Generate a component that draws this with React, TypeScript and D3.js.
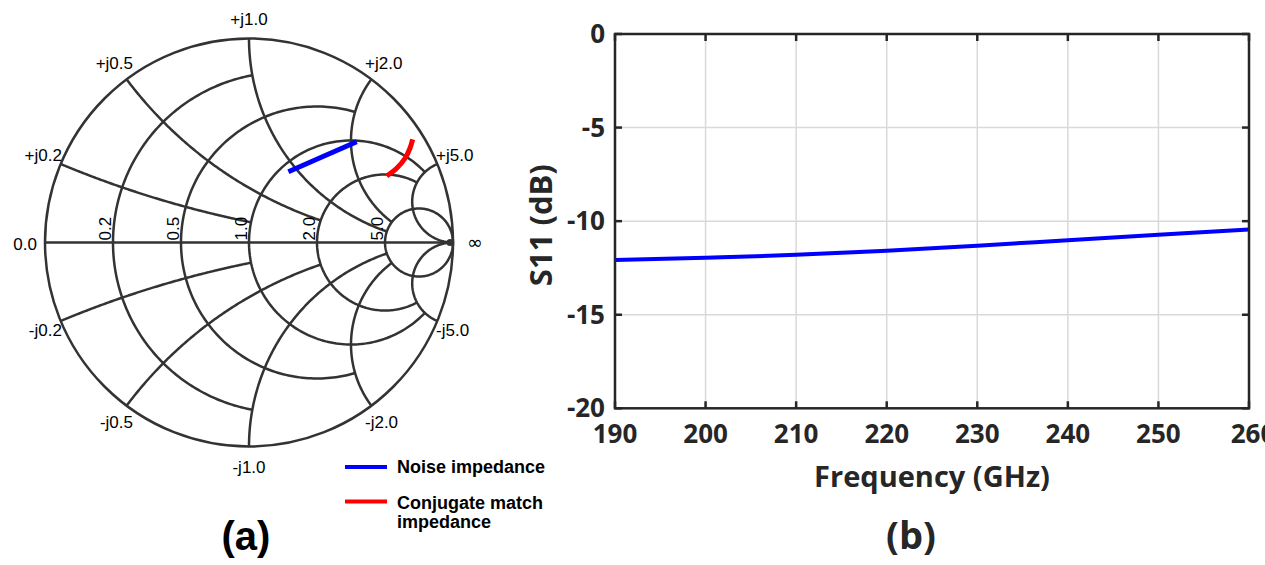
import React from 'react';
import * as d3 from 'd3';

// Smith chart grid (normalised values) and how far each grid line runs
const resistanceValues = [0.2, 0.5, 1, 2, 5];
const resistanceStopAtReactance = [1, 2, 5, 5, Infinity];
const resistanceLabels = ['0.2', '0.5', '1.0', '2.0', '5.0'];
const reactanceValues = [0.2, 0.5, 1, 2, 5];
const reactanceStopAtResistance = [1, 2, 5, 5, Infinity];
const reactanceLabels = ['0.2', '0.5', '1.0', '2.0', '5.0'];

// impedance traces, as reflection coefficient (re, im)
const noiseRe = [0.193, 0.36, 0.528];
const noiseIm = [0.347, 0.42, 0.494];
const conjRe = [0.675, 0.724, 0.765, 0.789, 0.802];
const conjIm = [0.326, 0.364, 0.413, 0.462, 0.506];

// S11 vs frequency
const freqGHz = [190, 200, 210, 220, 230, 240, 250, 260];
const s11dB = [-12.08, -11.96, -11.8, -11.58, -11.31, -11.02, -10.73, -10.44];
const freqTicks = [190, 200, 210, 220, 230, 240, 250, 260];
const s11Ticks = [0, -5, -10, -15, -20];

const GRID = '#333333';
const AXIS = '#262626';

const cx = 249, cy = 242.5, R = 204;
const gx = d3.scaleLinear().domain([-1, 1]).range([cx - R, cx + R]);
const gy = d3.scaleLinear().domain([-1, 1]).range([cy + R, cy - R]);

// z -> gamma
const toGamma = (r: number, x: number): [number, number] => {
  if (!isFinite(r) || !isFinite(x)) return [1, 0];
  const nr = r - 1, dr = r + 1;
  const den = dr * dr + x * x;
  return [(nr * dr + x * x) / den, (x * dr - nr * x) / den];
};

const smithLine = d3.line<[number, number]>().x(d => gx(d[0])).y(d => gy(d[1]));

const resistancePath = (r: number, xmax: number) => {
  const c = r / (1 + r), rad = 1 / (1 + r);
  const end = toGamma(r, xmax);
  const a0 = isFinite(xmax) ? Math.atan2(end[1], end[0] - c) : 0;
  const a1 = 2 * Math.PI - a0;
  const pts = d3.range(0, 181).map(i => {
    const a = a0 + (a1 - a0) * i / 180;
    return [c + rad * Math.cos(a), rad * Math.sin(a)] as [number, number];
  });
  return smithLine(pts) as string;
};

const reactancePath = (x: number, rmax: number) => {
  const sign = x > 0 ? 1 : -1;
  const ax = Math.abs(x);
  const ccy = 1 / ax, rad = 1 / ax;
  const start = toGamma(0, ax);
  const end = toGamma(rmax, ax);
  const norm = (a: number) => (a < 0 ? a + 2 * Math.PI : a);
  const a0 = norm(Math.atan2(start[1] - ccy, start[0] - 1));
  let a1 = norm(Math.atan2(end[1] - ccy, end[0] - 1));
  if (a1 < a0) a1 += 2 * Math.PI;
  const pts = d3.range(0, 121).map(i => {
    const a = a0 + (a1 - a0) * i / 120;
    return [1 + rad * Math.cos(a), sign * (ccy + rad * Math.sin(a))] as [number, number];
  });
  return smithLine(pts) as string;
};

const SmithChart = () => {
  const smithFont = "'Liberation Sans', Arial, sans-serif";
  const noisePts = noiseRe.map((v, i) => [v, noiseIm[i]] as [number, number]);
  const conjPts = conjRe.map((v, i) => [v, conjIm[i]] as [number, number]);
  const curved = d3.line<[number, number]>().x(d => gx(d[0])).y(d => gy(d[1])).curve(d3.curveCatmullRom);

  return (
    <g>
      <g fill="none" stroke={GRID} strokeWidth={2.5}>
        <circle cx={gx(0)} cy={gy(0)} r={gx(1) - gx(0)} />
        <line x1={gx(-1)} x2={gx(1)} y1={gy(0)} y2={gy(0)} />
        {resistanceValues.map((r, i) => (
          <path key={'r' + i} d={resistancePath(r, resistanceStopAtReactance[i])} />
        ))}
        {reactanceValues.map((x, i) => (
          <g key={'x' + i}>
            <path d={reactancePath(x, reactanceStopAtResistance[i])} />
            <path d={reactancePath(-x, reactanceStopAtResistance[i])} />
          </g>
        ))}
      </g>
      <circle cx={gx(1) - 3} cy={gy(0)} r={3.5} fill={GRID} />

      <g fontFamily={smithFont} fontSize={17} fill="#000">
        <text x={gx(-1) - 8} y={gy(0) + 7} textAnchor="end">0.0</text>
        {resistanceValues.map((r, i) => {
          const g = toGamma(r, 0);
          const px = gx(g[0]) - 2, py = gy(0) - 2;
          return (
            <text key={'rl' + i} transform={`translate(${px},${py}) rotate(-90)`} textAnchor="start">
              {resistanceLabels[i]}
            </text>
          );
        })}
        <text x={gx(1) + 22} y={gy(0) + 6} textAnchor="middle" fontFamily="'DejaVu Sans', sans-serif" fontSize={19}>∞</text>
        {reactanceValues.map((x, i) =>
          [1, -1].map(sg => {
            const g = toGamma(0, sg * x);
            const c = g[0], s = Math.abs(g[1]);
            const px = gx(g[0]), py = gy(g[1]);
            const anchor = Math.abs(c) < 0.2 ? 'middle' : c < 0 ? 'end' : 'start';
            const dx = anchor === 'middle' ? 0 : (c < 0 ? 1 : -1) * (1 - Math.abs(c)) * 16;
            const dy = sg > 0 ? -14 * Math.pow(s, 1.5) : 12 + 14.5 * Math.pow(s, 1.5);
            return (
              <text key={'xl' + i + sg} x={px + dx} y={py + dy} textAnchor={anchor}>
                {(sg > 0 ? '+j' : '-j') + reactanceLabels[i]}
              </text>
            );
          })
        )}
      </g>

      <path d={smithLine(noisePts) as string} fill="none" stroke="#0000ff" strokeWidth={5} />
      <path d={curved(conjPts) as string} fill="none" stroke="#ff0000" strokeWidth={5} />

      <g fontFamily={smithFont} fontWeight="bold" fontSize={18} fill="#000">
        <line x1={345} x2={387} y1={467} y2={467} stroke="#0000ff" strokeWidth={4} />
        <text x={397} y={473}>Noise impedance</text>
        <line x1={345} x2={387} y1={501.5} y2={501.5} stroke="#ff0000" strokeWidth={4} />
        <text x={397} y={509}>Conjugate match</text>
        <text x={397} y={528}>impedance</text>
      </g>
      <text x={246} y={550} textAnchor="middle" fontFamily={smithFont} fontWeight="bold" fontSize={40}>(a)</text>
    </g>
  );
};

const S11Chart = () => {
  const left = 615, right = 1249, top = 34, bottom = 408.3;
  const x = d3.scaleLinear().domain([190, 260]).range([left, right]);
  const y = d3.scaleLinear().domain([-20, 0]).range([bottom, top]);
  const line = d3.line<number>().x((d, i) => x(freqGHz[i])).y(d => y(d)).curve(d3.curveMonotoneX);
  const font = "'Open Sans', sans-serif";
  const tick = 7;

  return (
    <g fontFamily={font} fontWeight="bold" fill={AXIS}>
      <g stroke="#d9d9d9" strokeWidth={1.5}>
        {freqTicks.slice(1, -1).map(t => (
          <line key={'gx' + t} x1={x(t)} x2={x(t)} y1={top} y2={bottom} />
        ))}
        {s11Ticks.slice(1, -1).map(t => (
          <line key={'gy' + t} x1={left} x2={right} y1={y(t)} y2={y(t)} />
        ))}
      </g>
      <path d={line(s11dB) as string} fill="none" stroke="#0000ff" strokeWidth={4} />
      <g stroke={AXIS} strokeWidth={2.5}>
        {freqTicks.map(t => (
          <g key={'tx' + t}>
            <line x1={x(t)} x2={x(t)} y1={bottom} y2={bottom - tick} />
            <line x1={x(t)} x2={x(t)} y1={top} y2={top + tick} />
          </g>
        ))}
        {s11Ticks.map(t => (
          <g key={'ty' + t}>
            <line x1={left} x2={left + tick} y1={y(t)} y2={y(t)} />
            <line x1={right} x2={right - tick} y1={y(t)} y2={y(t)} />
          </g>
        ))}
      </g>
      <rect x={left} y={top} width={right - left} height={bottom - top} fill="none" stroke={AXIS} strokeWidth={2.5} />
      <g fontSize={26}>
        {freqTicks.map(t => (
          <text key={'lx' + t} x={x(t) + (t === 260 ? 4 : 0)} y={bottom + 35} textAnchor="middle">{t}</text>
        ))}
        {s11Ticks.map(t => (
          <text key={'ly' + t} x={left - 10} y={y(t)} dy="0.35em" textAnchor="end">{t}</text>
        ))}
      </g>
      <text x={(left + right) / 2} y={487} textAnchor="middle" fontSize={29}>Frequency (GHz)</text>
      <text transform={`translate(552,${(top + bottom) / 2 + 4}) rotate(-90)`} textAnchor="middle" fontSize={31}>S11 (dB)</text>
      <text x={911} y={549} textAnchor="middle" fontSize={38}>(b)</text>
    </g>
  );
};

export default function App() {
  return (
    <svg width={1265} height={565} style={{ position: 'absolute', left: 0, top: 0, background: '#fff' }}>
      <rect width={1265} height={565} fill="#fff" />
      <SmithChart />
      <S11Chart />
    </svg>
  );
}
